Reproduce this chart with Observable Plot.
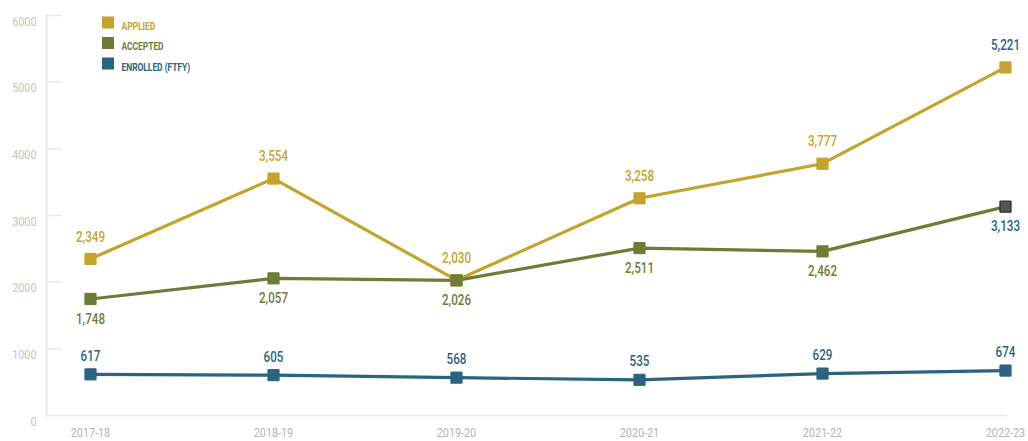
<!DOCTYPE html>
<html>
<head>
<meta charset="utf-8">
<script src="https://cdn.jsdelivr.net/npm/d3@7"></script>
<script src="https://cdn.jsdelivr.net/npm/@observablehq/plot@0.6"></script>
<style>
  html, body { margin: 0; padding: 0; background: #fff; }
  #chart svg { display: block; font-family: Roboto, "DejaVu Sans", sans-serif; }
</style>
</head>
<body>
<div id="chart"></div>
<script>
const years = ["2017-18", "2018-19", "2019-20", "2020-21", "2021-22", "2022-23"];
const applied = [2349, 3554, 2030, 3258, 3777, 5221];
const accepted = [1748, 2057, 2026, 2511, 2462, 3133];
const enrolled = [617, 605, 568, 535, 629, 674];
const seriesNames = ["APPLIED", "ACCEPTED", "ENROLLED (FTFY)"];
const yTicks = [0, 1000, 2000, 3000, 4000, 5000, 6000];

const colors = ["#c4a42c", "#6b7d37", "#2a6480"];
const highlight = "#2a6480";

const series = [applied, accepted, enrolled];
const rows = series.map((vals, s) => years.map((year, i) => ({
  series: seriesNames[s], s, year, i, value: vals[i], last: i === years.length - 1
})));

const labelOffsets = [-22, 20, -18];
const fmt = d3.format(",");

const marks = [
  Plot.frame({anchor: "left", stroke: "#e8e8e8", strokeWidth: 2}),
  Plot.ruleY([0], {stroke: "#e8e8e8", strokeWidth: 1.5}),
  Plot.ruleY(yTicks.filter(d => d > 0), {y: d => d, stroke: "#e8e8e8", strokeWidth: 1.5, insetRight: 945}),
  Plot.axisY(yTicks, {tickSize: 0, tickPadding: 10, dy: 6, fill: "#c4c4c4", fontSize: 13.5, letterSpacing: "1px", tickFormat: "d", label: null}),
  Plot.axisX({tickSize: 0, tickPadding: 12, fill: "#b4b4b4", fontSize: 13.5, letterSpacing: "1.5px", label: null}),
];

rows.forEach((data, s) => {
  marks.push(Plot.line(data, {x: "year", y: "value", stroke: colors[s], strokeWidth: 3.2}));
});
rows.forEach((data, s) => {
  marks.push(Plot.dot(data, {
    x: "year", y: "value", symbol: "square", r: 6.3,
    fill: d => (s === 1 && d.last) ? "#555555" : colors[s],
    stroke: d => (s === 1 && d.last) ? "#222222" : colors[s],
    strokeWidth: 1
  }));
  marks.push(Plot.text(data, {
    x: "year", y: "value", text: d => fmt(d.value), dy: labelOffsets[s],
    fill: d => (d.last && s < 2) ? highlight : colors[s],
    fontSize: 14.5, fontWeight: 500, letterSpacing: "1.1px"
  }));
});

// legend inside plot
seriesNames.forEach((name, i) => {
  marks.push(Plot.dot([name], {frameAnchor: "top-left", dx: 61.5, dy: 7 + i * 20.5, symbol: "square", r: 6.8, fill: colors[i]}));
  marks.push(Plot.text([name], {frameAnchor: "top-left", text: d => d, dx: 75, dy: 7 + i * 20.5, textAnchor: "start", fill: colors[i], fontSize: 10.5, fontWeight: "bold", letterSpacing: "1px"}));
});

const chart = Plot.plot({
  width: 1028,
  height: 441,
  marginTop: 15,
  marginBottom: 26,
  marginLeft: 46,
  marginRight: 21,
  x: {type: "point", domain: years, range: [88, 1007], padding: 0},
  y: {domain: [0, 6000], range: [415, 15]},
  marks
});

// condense all texts horizontally (no condensed font installed)
chart.querySelectorAll("text").forEach(t => {
  const tr = t.getAttribute("transform") || "";
  t.setAttribute("transform", `${tr} scale(0.8,1)`.trim());
});

document.getElementById("chart").appendChild(chart);
</script>
</body>
</html>
